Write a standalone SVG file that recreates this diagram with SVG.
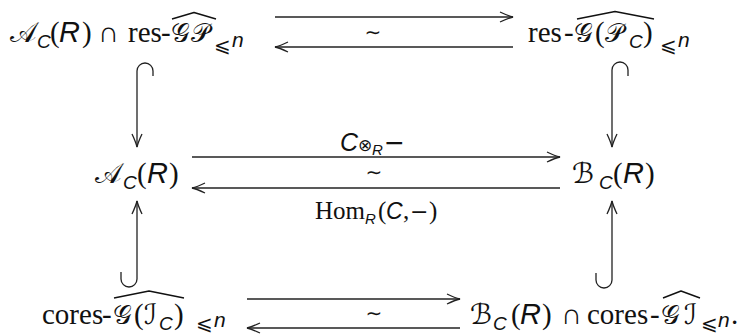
<svg xmlns="http://www.w3.org/2000/svg" width="750" height="334" viewBox="0 0 750 334">
<style>
.t{font-family:"Liberation Serif",serif;font-size:29px;fill:#111}
.it{font-family:"Liberation Sans",sans-serif;font-style:italic}
.sc{font-family:"DejaVu Serif","DejaVu Sans","Noto Sans",serif;font-size:28px}
.sg{font-size:26px}
.sub{font-size:19px}
.ns{font-size:21px}
.le{font-family:"DejaVu Sans",sans-serif;font-size:20px}
.lab{font-family:"Liberation Serif",serif;font-size:25px;fill:#111}
.sym{font-family:"DejaVu Sans",sans-serif}
.ln{fill:none;stroke:#222;stroke-width:1.3}
.hat{fill:none;stroke:#111;stroke-width:1.4;stroke-linejoin:round}
.til{font-family:"DejaVu Sans",sans-serif;font-size:20px;fill:#111;text-anchor:middle}
</style>
<defs>
<marker id="ah" viewBox="-15 -7 17 14" markerWidth="17" markerHeight="14" refX="0" refY="0" markerUnits="userSpaceOnUse" orient="auto" overflow="visible">
<path d="M-13,-5 Q-5,-1.2 0,0 Q-5,1.2 -13,5" fill="none" stroke="#222" stroke-width="1.3"/>
</marker>
</defs>

<g id="n_tl">
<text class="t" y="42"><tspan class="sc" x="10" font-size="25">𝒜</tspan><tspan class="it sub" x="37" y="48">C</tspan><tspan x="50" y="42">(</tspan><tspan class="it" x="59">R</tspan><tspan x="82">)</tspan><tspan x="98">∩</tspan><tspan x="128">res</tspan><tspan x="161">-</tspan><tspan class="sc sg" x="171">𝒢</tspan><tspan class="sc sg" x="191">𝒫</tspan><tspan class="le" x="214" y="52">⩽</tspan><tspan class="it ns" x="232" y="47">n</tspan></text>
<path class="hat" d="M172,19 L194,12.5 L216,19"/>
</g>

<g id="n_tr">
<text class="t" y="42"><tspan x="528">res</tspan><tspan x="564">-</tspan><tspan class="sc sg" x="574">𝒢</tspan><tspan x="595">(</tspan><tspan class="sc sg" x="605">𝒫</tspan><tspan class="it sub" x="629" y="48">C</tspan><tspan x="643" y="42">)</tspan><tspan class="le" x="660" y="52">⩽</tspan><tspan class="it ns" x="678" y="47">n</tspan></text>
<path class="hat" d="M577,19 L615,11.5 L654,19"/>
</g>

<g id="n_ml">
<text class="t" y="183"><tspan class="sc" x="95">𝒜</tspan><tspan class="it sub" x="123" y="189">C</tspan><tspan x="137" y="183">(</tspan><tspan class="it" x="147">R</tspan><tspan x="169">)</tspan></text>
</g>

<g id="n_mr">
<text class="t" y="183"><tspan class="sc" x="572" font-size="31">ℬ</tspan><tspan class="it sub" x="599" y="189">C</tspan><tspan x="613" y="183">(</tspan><tspan class="it" x="623">R</tspan><tspan x="645">)</tspan></text>
</g>

<g id="n_bl">
<text class="t" y="324"><tspan x="42">cores</tspan><tspan x="102">-</tspan><tspan class="sc sg" x="113">𝒢</tspan><tspan x="134">(</tspan><tspan class="sc" x="144" font-size="31">ℐ</tspan><tspan class="it sub" x="159" y="330">C</tspan><tspan x="174" y="324">)</tspan><tspan class="le" x="196" y="330">⩽</tspan><tspan class="it ns" x="214" y="327">n</tspan></text>
<path class="hat" d="M114,298 L149,291 L184,298"/>
</g>

<g id="n_br">
<text class="t" y="324"><tspan class="sc" x="470">ℬ</tspan><tspan class="it sub" x="493" y="330">C</tspan><tspan x="511" y="324">(</tspan><tspan class="it" x="520">R</tspan><tspan x="542">)</tspan><tspan x="561">∩</tspan><tspan x="587">cores</tspan><tspan x="650">-</tspan><tspan class="sc sg" x="661">𝒢</tspan><tspan class="sc" x="684" font-size="31">ℐ</tspan><tspan class="le" x="701" y="330">⩽</tspan><tspan class="it ns" x="718" y="327">n</tspan><tspan x="731" y="324">.</tspan></text>
<path class="hat" d="M663,298 L681,291 L700,298"/>
</g>

<g id="connectors">
<line class="ln" x1="275" y1="17" x2="513" y2="17" marker-end="url(#ah)"/>
<line class="ln" x1="513" y1="47" x2="275" y2="47" marker-end="url(#ah)"/>
<text class="til" x="373" y="39">∼</text>

<line class="ln" x1="192" y1="157" x2="560" y2="157" marker-end="url(#ah)"/>
<line class="ln" x1="560" y1="188" x2="192" y2="188" marker-end="url(#ah)"/>
<text class="til" x="374" y="179">∼</text>
<text class="lab" y="151" font-size="21"><tspan class="it" x="340">C</tspan><tspan class="sym" x="358" font-size="17">⊗</tspan><tspan class="it" x="372" y="155" font-size="15">R</tspan><tspan class="sym" x="384" y="151">−</tspan></text>
<text class="lab" y="219"><tspan x="315">Hom</tspan><tspan class="it" x="365" y="224" font-size="15">R</tspan><tspan x="378" y="219">(</tspan><tspan class="it" x="386" font-size="23">C</tspan><tspan x="403">,</tspan><tspan class="sym" x="410" font-size="22">−</tspan><tspan x="429">)</tspan></text>

<line class="ln" x1="247" y1="299" x2="460" y2="299" marker-end="url(#ah)"/>
<line class="ln" x1="460" y1="328" x2="247" y2="328" marker-end="url(#ah)"/>
<text class="til" x="374" y="320">∼</text>

<path class="ln" d="M153,76 L153,71 A8,8 0 0 0 137,71 L137,147" marker-end="url(#ah)"/>
<path class="ln" d="M628,76 L628,70 A8,8 0 0 0 612,70 L612,147" marker-end="url(#ah)"/>
<path class="ln" d="M121,272 L121,279 A8,8 0 0 0 137,279 L137,201" marker-end="url(#ah)"/>
<path class="ln" d="M596,273 L596,280 A8,8 0 0 0 612,280 L612,201" marker-end="url(#ah)"/>
</g>
</svg>
